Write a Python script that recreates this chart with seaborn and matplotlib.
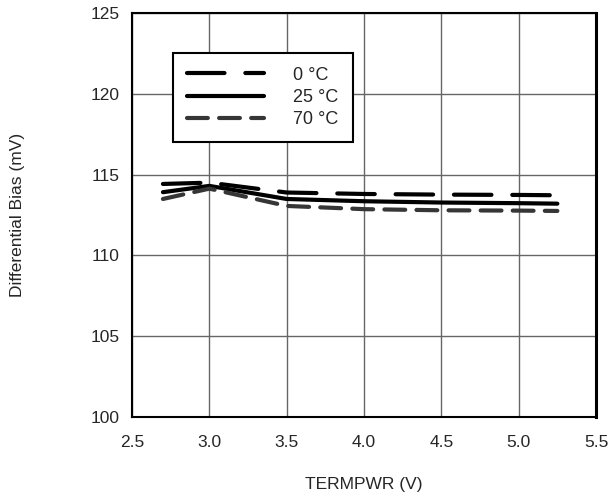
import pandas as pd
import matplotlib
matplotlib.use('Agg')
import matplotlib.pyplot as plt
import seaborn as sns

# values
termpwr = [2.7, 3.0, 3.5, 4.0, 4.5, 5.0, 5.25]
bias_0c = [114.42, 114.5, 113.89, 113.8, 113.76, 113.74, 113.72]
bias_25c = [113.91, 114.3, 113.49, 113.35, 113.27, 113.23, 113.2]
bias_70c = [113.49, 114.13, 113.06, 112.86, 112.79, 112.77, 112.75]
labels = ['0 °C', '25 °C', '70 °C']

df = pd.concat([
    pd.DataFrame({'TERMPWR': termpwr, 'bias': bias_0c, 'temp': labels[0]}),
    pd.DataFrame({'TERMPWR': termpwr, 'bias': bias_25c, 'temp': labels[1]}),
    pd.DataFrame({'TERMPWR': termpwr, 'bias': bias_70c, 'temp': labels[2]}),
])

sns.set_style('white')
plt.rcParams['font.family'] = ['Liberation Sans', 'DejaVu Sans']

fig = plt.figure(figsize=(6.08, 4.95), dpi=100)
ax = fig.add_axes([0.2171, 0.1576, 0.7632, 0.8162])

sns.lineplot(data=df, x='TERMPWR', y='bias', hue='temp', style='temp',
             palette={labels[0]: 'black', labels[1]: 'black', labels[2]: '#363636'},
             dashes={labels[0]: (9, 5), labels[1]: '', labels[2]: (5, 2.7)},
             linewidth=3, ax=ax, legend=True)
for ln in ax.lines:
    ln.set_dash_capstyle('round')
    ln.set_solid_capstyle('round')

ax.set_xlim(2.5, 5.5)
ax.set_ylim(100, 125)
ax.set_xticks([2.5, 3.0, 3.5, 4.0, 4.5, 5.0, 5.5])
ax.set_xticklabels(['2.5', '3.0', '3.5', '4.0', '4.5', '5.0', '5.5'])
ax.set_yticks([100, 105, 110, 115, 120, 125])
ax.grid(True, color='#666666', linewidth=1)
for s in ax.spines.values():
    s.set_color('black')
    s.set_linewidth(1.5)
ax.spines['right'].set_linewidth(2.2)
ax.tick_params(labelsize=12.5, length=0)
ax.tick_params(axis='x', pad=13)
ax.tick_params(axis='y', pad=9)
ax.set_xlabel('TERMPWR (V)', fontsize=12.5)
ax.set_ylabel('Differential Bias (mV)', fontsize=12.5)
ax.xaxis.set_label_coords(0.5, -0.1485)
ax.yaxis.set_label_coords(-0.2306, 0.5)

leg = ax.legend(loc='upper left', bbox_to_anchor=(0.0884, 0.688, 0.388, 0.213),
                mode='expand', fontsize=13, frameon=True, fancybox=False,
                handlelength=4.3, handletextpad=1.6, borderpad=0.75,
                labelspacing=0.3, borderaxespad=0)
leg.get_frame().set_edgecolor('black')
leg.get_frame().set_linewidth(1.5)
leg.get_frame().set_alpha(1)
for ln in leg.get_lines():
    ln.set_dash_capstyle('round')
    ln.set_solid_capstyle('round')

plt.savefig('out.png', dpi=100)
